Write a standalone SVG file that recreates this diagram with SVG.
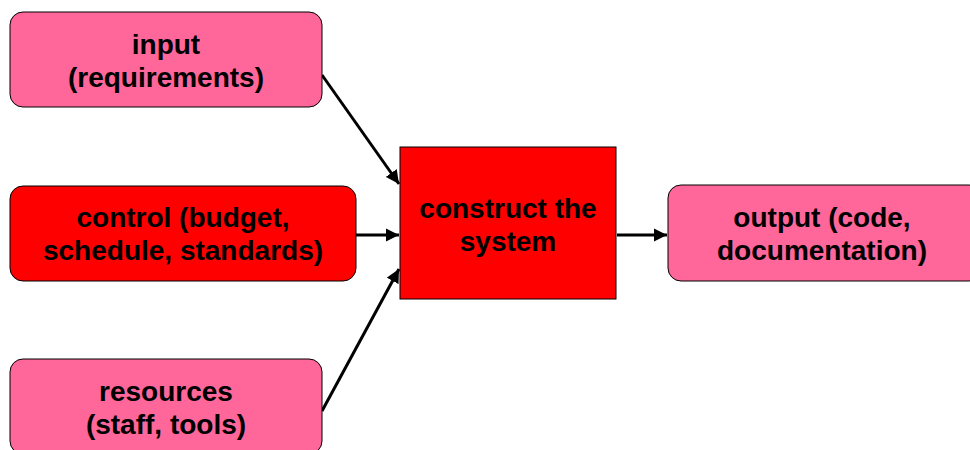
<svg xmlns="http://www.w3.org/2000/svg" width="970" height="450" viewBox="0 0 970 450">
  <defs>
    <marker id="arrow" viewBox="0 0 10 10" refX="10" refY="5" markerWidth="4.5" markerHeight="4.5" orient="auto" markerUnits="strokeWidth">
      <path d="M0,0 L10,5 L0,10 z" fill="#000"/>
    </marker>
  </defs>
  <style>
    .pink { fill: #ff6699; stroke: #000; stroke-width: 1; }
    .red { fill: #ff0000; stroke: #000; stroke-width: 1; }
    .label { font-family: "Liberation Sans", Arial, sans-serif; font-weight: bold; font-size: 28px; fill: #000; text-anchor: middle; }
    .edge { stroke: #000; stroke-width: 3; fill: none; marker-end: url(#arrow); }
  </style>
  <rect width="970" height="450" fill="#fff"/>

  <g id="connectors">
    <line class="edge" x1="322" y1="75" x2="399" y2="184"/>
    <line class="edge" x1="356" y1="235" x2="399" y2="235"/>
    <line class="edge" x1="322" y1="411" x2="399" y2="269"/>
    <line class="edge" x1="617" y1="235" x2="667" y2="235"/>
  </g>

  <g id="input">
    <rect class="pink" x="10" y="12" width="312" height="95" rx="13"/>
    <text class="label" x="166" y="54">input</text>
    <text class="label" x="166" y="87">(requirements)</text>
  </g>

  <g id="control">
    <rect class="red" x="10" y="186" width="346" height="95" rx="13"/>
    <text class="label" x="183" y="227">control (budget,</text>
    <text class="label" x="183" y="260">schedule, standards)</text>
  </g>

  <g id="resources">
    <rect class="pink" x="10" y="359" width="312" height="95" rx="13"/>
    <text class="label" x="166" y="401">resources</text>
    <text class="label" x="166" y="434">(staff, tools)</text>
  </g>

  <g id="construct">
    <rect class="red" x="400" y="147" width="216" height="152"/>
    <text class="label" x="508" y="218">construct the</text>
    <text class="label" x="508" y="251">system</text>
  </g>

  <g id="output">
    <rect class="pink" x="668" y="185" width="314" height="96" rx="13"/>
    <text class="label" x="822" y="227">output (code,</text>
    <text class="label" x="822" y="260">documentation)</text>
  </g>
</svg>
